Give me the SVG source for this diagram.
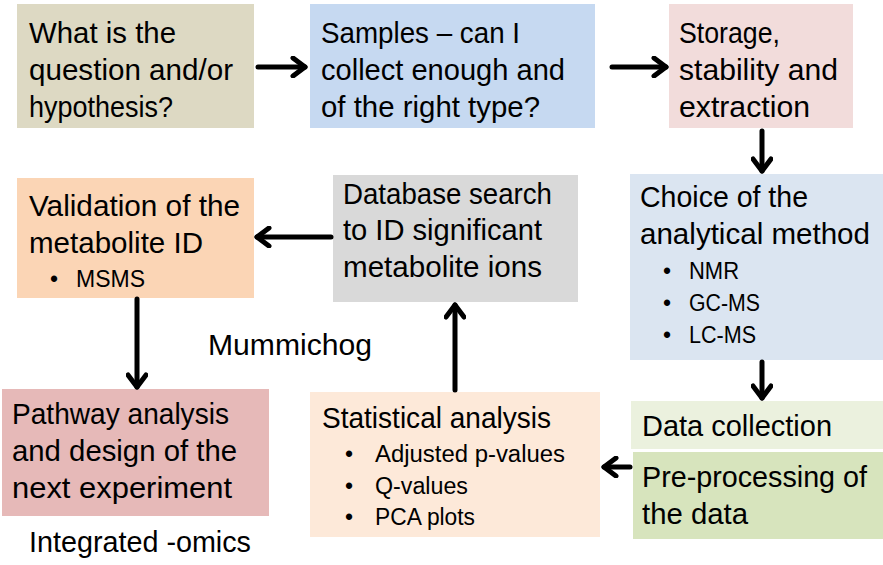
<svg xmlns="http://www.w3.org/2000/svg" width="883" height="565" viewBox="0 0 883 565">
<defs>
<style>
text{font-family:"Liberation Sans",Arial,sans-serif;fill:#000;}
.t{font-size:30px;}
.b{font-size:23px;}
.c{stroke:#000;stroke-width:5;fill:none;stroke-linecap:round;stroke-linejoin:round;}
</style>
<marker id="ah" viewBox="0 0 18 22" refX="15" refY="11" markerWidth="18" markerHeight="22" markerUnits="userSpaceOnUse" orient="auto">
<path d="M3,2 L15,11 L3,20" fill="none" stroke="#000" stroke-width="5" stroke-linecap="round" stroke-linejoin="round"/>
</marker>
</defs>
<rect width="883" height="565" fill="#fff"/>

<g id="question">
<rect x="17" y="4" width="237" height="124" fill="#ddd9c3"/>
<text class="t" x="29" y="43" textLength="147" lengthAdjust="spacingAndGlyphs">What is the</text>
<text class="t" x="29" y="80" textLength="204" lengthAdjust="spacingAndGlyphs">question and/or</text>
<text class="t" x="29" y="117" textLength="144" lengthAdjust="spacingAndGlyphs">hypothesis?</text>
</g>

<g id="samples">
<rect x="310" y="4" width="285" height="124" fill="#c6d9f1"/>
<text class="t" x="321" y="43" textLength="199" lengthAdjust="spacingAndGlyphs">Samples – can I</text>
<text class="t" x="321" y="80" textLength="244" lengthAdjust="spacingAndGlyphs">collect enough and</text>
<text class="t" x="321" y="117" textLength="219" lengthAdjust="spacingAndGlyphs">of the right type?</text>
</g>

<g id="storage">
<rect x="669" y="4" width="184" height="124" fill="#f2dcdb"/>
<text class="t" x="679" y="43" textLength="101" lengthAdjust="spacingAndGlyphs">Storage,</text>
<text class="t" x="679" y="80" textLength="159" lengthAdjust="spacingAndGlyphs">stability and</text>
<text class="t" x="679" y="117" textLength="131" lengthAdjust="spacingAndGlyphs">extraction</text>
</g>

<g id="choice">
<rect x="630" y="174" width="253" height="186" fill="#dbe5f1"/>
<text class="t" x="640" y="207" textLength="168" lengthAdjust="spacingAndGlyphs">Choice of the</text>
<text class="t" x="640" y="244" textLength="230" lengthAdjust="spacingAndGlyphs">analytical method</text>
<text class="b" x="663" y="279">•</text>
<text class="b" x="689" y="279" textLength="50" lengthAdjust="spacingAndGlyphs">NMR</text>
<text class="b" x="663" y="311">•</text>
<text class="b" x="689" y="311" textLength="71" lengthAdjust="spacingAndGlyphs">GC-MS</text>
<text class="b" x="663" y="343">•</text>
<text class="b" x="689" y="343" textLength="67" lengthAdjust="spacingAndGlyphs">LC-MS</text>
</g>

<g id="datacollection">
<rect x="631" y="401" width="252" height="48" fill="#ebf1de"/>
<text class="t" x="642" y="436" textLength="190" lengthAdjust="spacingAndGlyphs">Data collection</text>
</g>

<g id="preprocessing">
<rect x="633" y="452" width="250" height="87" fill="#d7e4bd"/>
<text class="t" x="642" y="487" textLength="225" lengthAdjust="spacingAndGlyphs">Pre-processing of</text>
<text class="t" x="642" y="524" textLength="106" lengthAdjust="spacingAndGlyphs">the data</text>
</g>

<g id="statistical">
<rect x="310" y="392" width="290" height="145" fill="#fde9d9"/>
<text class="t" x="322" y="428" textLength="229" lengthAdjust="spacingAndGlyphs">Statistical analysis</text>
<text class="b" x="345" y="462">•</text>
<text class="b" x="375" y="462" textLength="190" lengthAdjust="spacingAndGlyphs">Adjusted p-values</text>
<text class="b" x="345" y="494">•</text>
<text class="b" x="375" y="494" textLength="93" lengthAdjust="spacingAndGlyphs">Q-values</text>
<text class="b" x="345" y="525">•</text>
<text class="b" x="375" y="525" textLength="100" lengthAdjust="spacingAndGlyphs">PCA plots</text>
</g>

<g id="database">
<rect x="333" y="175" width="245" height="127" fill="#d9d9d9"/>
<text class="t" x="343" y="204" textLength="209" lengthAdjust="spacingAndGlyphs">Database search</text>
<text class="t" x="343" y="240" textLength="199" lengthAdjust="spacingAndGlyphs">to ID significant</text>
<text class="t" x="343" y="277" textLength="199" lengthAdjust="spacingAndGlyphs">metabolite ions</text>
</g>

<g id="validation">
<rect x="17" y="178" width="237" height="120" fill="#fbd5b5"/>
<text class="t" x="29" y="216" textLength="211" lengthAdjust="spacingAndGlyphs">Validation of the</text>
<text class="t" x="29" y="253" textLength="174" lengthAdjust="spacingAndGlyphs">metabolite ID</text>
<text class="b" x="50" y="287">•</text>
<text class="b" x="76" y="287" textLength="69" lengthAdjust="spacingAndGlyphs">MSMS</text>
</g>

<g id="pathway">
<rect x="2" y="389" width="267" height="127" fill="#e6b9b8"/>
<text class="t" x="12" y="424" textLength="217" lengthAdjust="spacingAndGlyphs">Pathway analysis</text>
<text class="t" x="12" y="461" textLength="225" lengthAdjust="spacingAndGlyphs">and design of the</text>
<text class="t" x="12" y="498" textLength="220" lengthAdjust="spacingAndGlyphs">next experiment</text>
</g>

<g id="labels">
<text class="t" x="208" y="355" textLength="164" lengthAdjust="spacingAndGlyphs">Mummichog</text>
<text class="t" x="29" y="552" textLength="222" lengthAdjust="spacingAndGlyphs">Integrated -omics</text>
</g>

<g id="connectors">
<path class="c" d="M258,67 L305,67" marker-end="url(#ah)"/>
<path class="c" d="M612,67 L666,67" marker-end="url(#ah)"/>
<path class="c" d="M762,131 L762,171" marker-end="url(#ah)"/>
<path class="c" d="M762,362 L762,398" marker-end="url(#ah)"/>
<path class="c" d="M630,467 L604,467" marker-end="url(#ah)"/>
<path class="c" d="M455,390 L455,305" marker-end="url(#ah)"/>
<path class="c" d="M331,237 L257,237" marker-end="url(#ah)"/>
<path class="c" d="M137,299 L137,387" marker-end="url(#ah)"/>
</g>
</svg>
